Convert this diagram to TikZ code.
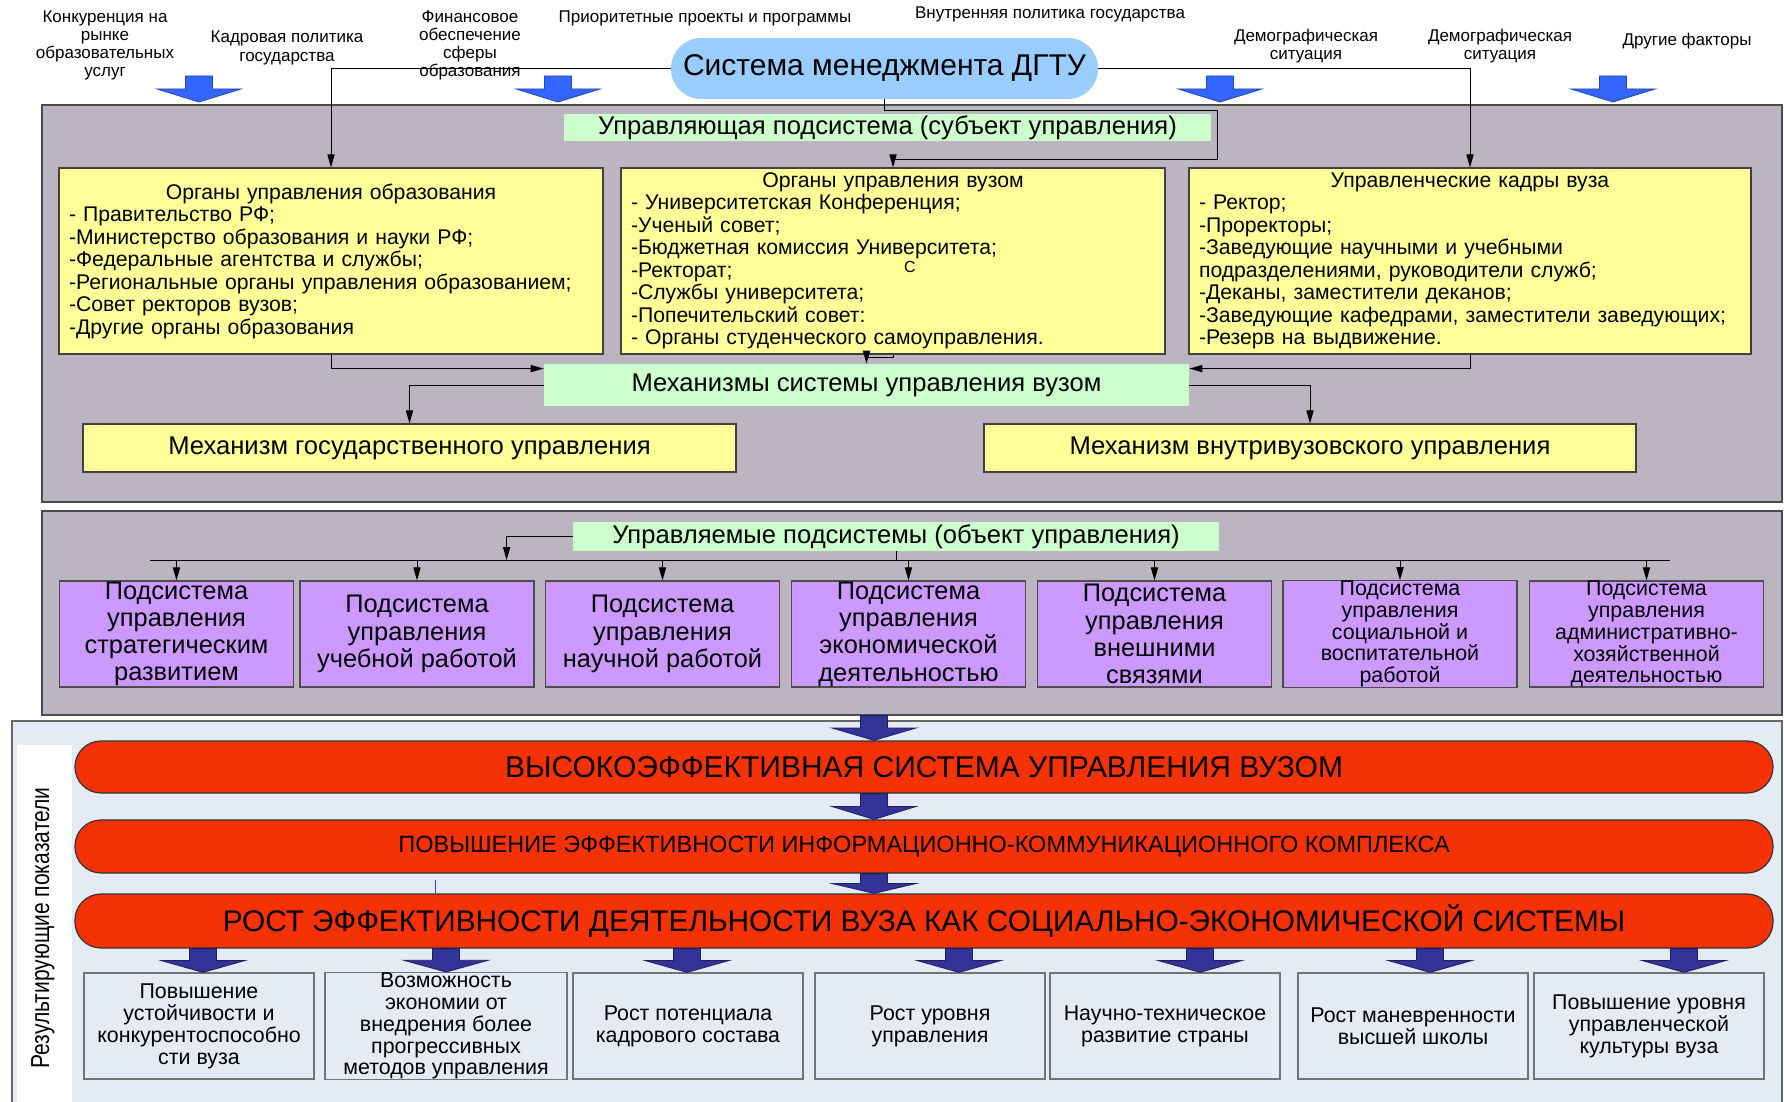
\documentclass[tikz,border=0pt]{standalone}
\usepackage{fontspec}
\setmainfont{Liberation Sans}
\usetikzlibrary{arrows.meta,calc}

\definecolor{panelgray}{RGB}{187,180,193}
\definecolor{paleyellow}{RGB}{255,255,153}
\definecolor{mintgreen}{RGB}{204,255,204}
\definecolor{lilac}{RGB}{204,153,255}
\definecolor{skyblue}{RGB}{153,204,255}
\definecolor{paleblue}{RGB}{229,235,245}
\definecolor{resultred}{RGB}{245,50,5}
\definecolor{arrowblue}{RGB}{51,102,255}
\definecolor{arrownavy}{RGB}{51,51,153}

\newcommand{\bodyfont}{\fontsize{10.6}{11.25}\selectfont}
\newcommand{\subbig}{\fontsize{12.7}{13.6}\selectfont}
\newcommand{\subsmall}{\fontsize{10.7}{10.9}\selectfont}

% wide block arrow pointing down, from #2 to #3
\newcommand{\blockdown}[3][]{%
  \filldraw[#1] let \p1=(#2), \p2=(#3) in
    (\x1-6.75pt,\y1) -- (\x1+6.75pt,\y1) -- (\x1+6.75pt,{(\y1+\y2)/2})
    -- (\x1+21pt,{(\y1+\y2)/2}) -- (\x2,\y2) -- (\x1-21pt,{(\y1+\y2)/2})
    -- (\x1-6.75pt,{(\y1+\y2)/2}) -- cycle;}

\begin{document}
\begin{tikzpicture}[x=0.5pt,y=-0.5pt,
    every node/.style={inner sep=0pt},
    conn/.style={-{Triangle[length=6.5pt,width=3.6pt]},line width=0.5pt},
    line/.style={line width=0.5pt},
    panel/.style={draw=black!70,fill=panelgray,line width=0.6pt},
    factor/.style={align=center,font=\fontsize{8.5}{9.1}\selectfont},
    greenbox/.style={fill=mintgreen,font=\fontsize{12.8}{14}\selectfont},
    yellowbox/.style={draw=black!75,fill=paleyellow,line width=0.6pt},
    subbox/.style={draw=black!70,fill=lilac,line width=0.6pt,minimum width=117pt,minimum height=53pt,align=center},
    resultbar/.style={draw=black!80,fill=resultred,line width=0.6pt,rounded corners=13pt,minimum width=849pt},
    effectbox/.style={draw=black!55,fill=paleblue,line width=0.6pt,minimum height=53pt,align=center,font=\fontsize{10.7}{10.95}\selectfont},
    toparrow/.style={fill=arrowblue,draw=arrowblue!70!black,line width=0.4pt},
    darkarrow/.style={fill=arrownavy,draw=arrownavy!60!black,line width=0.4pt}]
  \useasboundingbox (0,0) rectangle (1784,1102);

  % outside factors
  \node[factor] (f1) at (105,45.5) {Конкуренция на\\рынке\\образовательных\\услуг};
  \node[factor] (f2) at (287,48) {Кадровая политика\\государства};
  \node[factor] (f3) at (470,45.5) {Финансовое\\обеспечение\\сферы\\образования};
  \node[factor] (f4) at (705,18) {Приоритетные проекты и программы};
  \node[factor] (f5) at (1050,14) {Внутренняя политика государства};
  \node[factor] (f6) at (1306,46) {Демографическая\\ситуация};
  \node[factor] (f7) at (1500,46) {Демографическая\\ситуация};
  \node[factor] (f8) at (1687,41) {Другие факторы};

  % panels
  \node[panel,minimum width=870pt,minimum height=198.5pt] (top) at (912,303.5) {};
  \node[panel,minimum width=870pt,minimum height=102pt] (mid) at (912,613) {};
  \node[draw=black!60,fill=paleblue,line width=0.6pt,minimum width=885pt,minimum height=194.5pt] (res) at (897,915.5) {};
  \fill[white] (17,745) rectangle (72,1102);
  \node[rotate=90,font=\fontsize{13}{15}\selectfont] (reslabel) at (43,928) {\scalebox{0.81}[1]{Результирующие показатели}};

  \foreach \ax in {199,558,1220,1613}{\blockdown[toparrow]{\ax,76}{\ax,102}}

  % subject of management
  \node[fill=skyblue,rounded corners=15pt,minimum width=213.5pt,minimum height=30.5pt,font=\fontsize{15}{18}\selectfont] (dgtu) at (884.5,68.5) {Система менеджмента ДГТУ};
  \node[greenbox,minimum width=323.5pt,minimum height=13.5pt] (ctrl) at (887.5,127.5) {Управляющая подсистема (субъект управления)};

  \node[yellowbox,minimum width=272pt,minimum height=93pt,text width=262pt,align=left,font=\bodyfont] (y1) at (331,261) {{\centering Органы управления образования\par}
    - Правительство РФ;\\
    -Министерство образования и науки РФ;\\
    -Федеральные агентства и службы;\\
    -Региональные органы управления образованием;\\
    -Совет ректоров вузов;\\
    -Другие органы образования};
  \node[yellowbox,minimum width=272pt,minimum height=93pt,text width=262pt,align=left,font=\bodyfont] (y2) at (893,261) {{\centering Органы управления вузом\par}
    - Университетская Конференция;\\
    -Ученый совет;\\
    -Бюджетная комиссия Университета;\\
    -Ректорат;\\
    -Службы университета;\\
    -Попечительский совет:\\
    - Органы студенческого самоуправления.};
  \node[yellowbox,minimum width=281pt,minimum height=93pt,text width=271pt,align=left,font=\bodyfont] (y3) at (1470,261) {{\centering Управленческие кадры вуза\par}
    - Ректор;\\
    -Проректоры;\\
    -Заведующие научными и учебными\\
    подразделениями, руководители служб;\\
    -Деканы, заместители деканов;\\
    -Заведующие кафедрами, заместители заведующих;\\
    -Резерв на выдвижение.};
  \node[font=\fontsize{8}{9}\selectfont] (stray) at (910,267) {С};

  \draw[conn] (dgtu.west) -| (y1.north);
  \draw[conn] (dgtu.east) -| (y3.north);
  \draw[conn] (dgtu.south) -- ++(0,11) -- ++(333,0) -- ++(0,49) -| (y2.north);

  % mechanisms
  \node[greenbox,minimum width=322.5pt,minimum height=21pt] (mech) at (866.5,385) {Механизмы системы управления вузом};
  \node[yellowbox,minimum width=326.5pt,minimum height=24pt,font=\fontsize{12.8}{14}\selectfont] (mg) at (409.5,448) {Механизм государственного управления};
  \node[yellowbox,minimum width=326pt,minimum height=24pt,font=\fontsize{12.8}{14}\selectfont] (mv) at (1310,448) {Механизм внутривузовского управления};

  \draw[conn] (y1.south) |- ([yshift=-2.5pt]mech.north west);
  \draw[conn] (y3.south) |- ([yshift=-2.5pt]mech.north east);
  \draw[conn] (y2.south -| mech.north) -- (mech.north);
  \draw[line] (mech.north) ++(0,-6) -| (y2.south);
  \draw[conn] (mech.west) -| (mg.north);
  \draw[conn] (mech.east) -| (mv.north);

  % object of management
  \node[greenbox,minimum width=323pt,minimum height=14.5pt] (obj) at (896,536.5) {Управляемые подсистемы (объект управления)};
  \coordinate (busL) at (150,560);
  \coordinate (busR) at (1670,560);
  \draw[line] (busL) -- (busR);
  \draw[conn] (obj.west) -- ++(-66,0) -- ++(0,23.5);
  \draw[line] (obj.south) -- (obj.south |- busL);

  \foreach \sx/\f/\t [count=\i] in {
      176.5/\subbig/{Подсистема\\управления\\стратегическим\\развитием},
      417/\subbig/{Подсистема\\управления\\учебной работой},
      662.5/\subbig/{Подсистема\\управления\\научной работой},
      908.5/\subbig/{Подсистема\\управления\\экономической\\деятельностью},
      1154.5/\subbig/{Подсистема\\управления\\внешними\\связями},
      1400/\subsmall/{Подсистема\\управления\\социальной и\\воспитательной\\работой},
      1646.5/\subsmall/{Подсистема\\управления\\административно-\\хозяйственной\\деятельностью}}{
    \node[subbox,font=\f] (s\i) at (\sx,634) {\t};
    \draw[conn] (s\i.north |- busL) -- (s\i.north);
  }

  % resulting indicators
  \node[resultbar,minimum height=26pt,font=\fontsize{15}{17}\selectfont] (r1) at (924,767) {ВЫСОКОЭФФЕКТИВНАЯ СИСТЕМА УПРАВЛЕНИЯ ВУЗОМ};
  \node[resultbar,minimum height=26.5pt,font=\fontsize{11.75}{14}\selectfont] (r2) at (924,846.5) {ПОВЫШЕНИЕ ЭФФЕКТИВНОСТИ ИНФОРМАЦИОННО-КОММУНИКАЦИОННОГО КОМПЛЕКСА};
  \node[resultbar,minimum height=27pt,font=\fontsize{14.9}{17}\selectfont] (r3) at (924,921) {РОСТ ЭФФЕКТИВНОСТИ ДЕЯТЕЛЬНОСТИ ВУЗА КАК СОЦИАЛЬНО-ЭКОНОМИЧЕСКОЙ СИСТЕМЫ};

  \blockdown[darkarrow]{$(mid.south -| r1.north)+(-50,0)$}{$(r1.north)+(-50,0)$}
  \blockdown[darkarrow]{$(r1.south)+(-50,0)$}{$(r2.north)+(-50,0)$}
  \blockdown[darkarrow]{$(r2.south)+(-50,0)$}{$(r3.north)+(-50,0)$}
  \draw[blue!50!gray,line width=0.3pt] (435,880) -- (435,893);

  \foreach \ex/\w/\d/\t [count=\i] in {
      199/115pt/4/{Повышение\\устойчивости и\\конкурентоспособно\\сти вуза},
      446/121pt/0/{Возможность\\экономии от\\внедрения более\\прогрессивных\\методов управления},
      688/115pt/-1/{Рост потенциала\\кадрового состава},
      930/115pt/29/{Рост уровня\\управления},
      1165/115pt/35/{Научно-техническое\\развитие страны},
      1413/115pt/17/{Рост маневренности\\высшей школы},
      1649/115pt/35/{Повышение уровня\\управленческой\\культуры вуза}}{
    \node[effectbox,minimum width=\w] (e\i) at (\ex,1026) {\t};
    \blockdown[darkarrow]{$(e\i.north |- r3.south)+(\d,0)$}{$(e\i.north)+(\d,0)$}
  }
\end{tikzpicture}
\end{document}
